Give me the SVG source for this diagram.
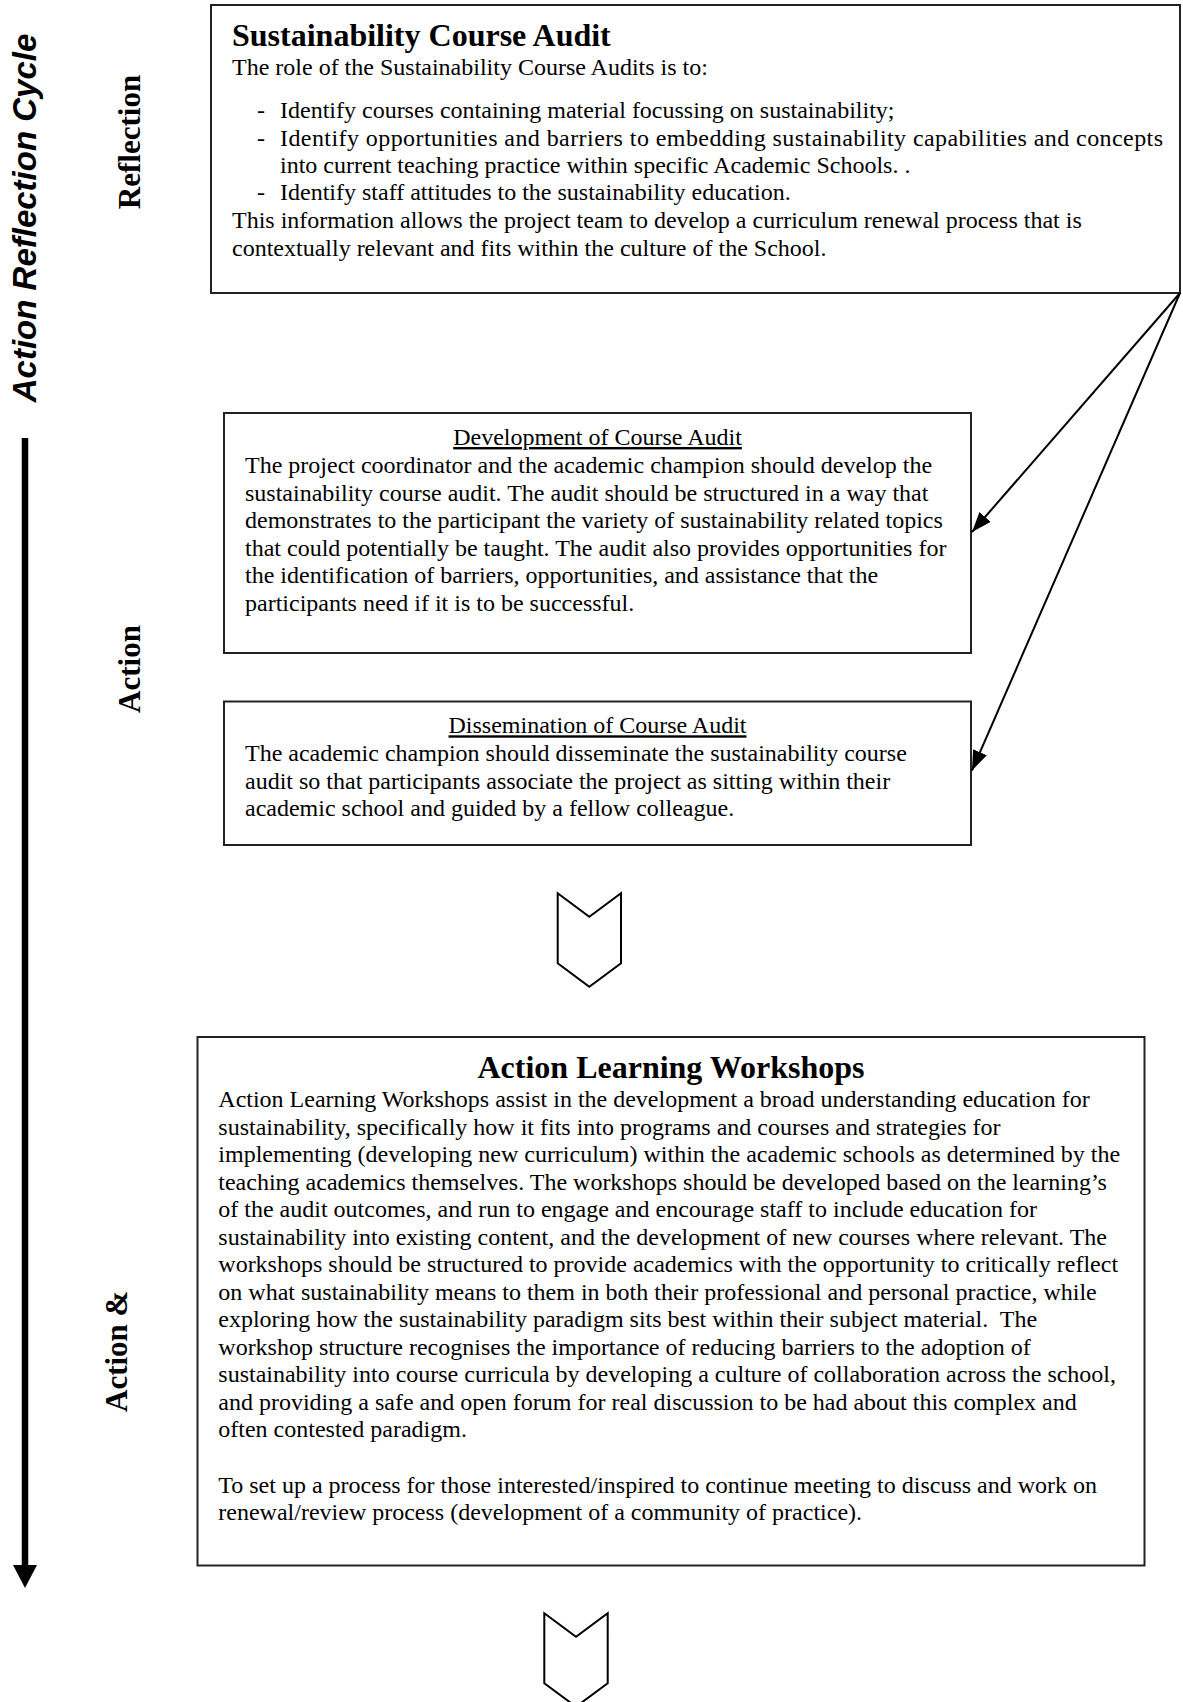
<svg xmlns="http://www.w3.org/2000/svg" width="1183" height="1702" viewBox="0 0 1183 1702">
<defs>
<style>
.box{fill:#fff;stroke:#222;stroke-width:2}
.t{font-family:"Liberation Serif","Times New Roman",serif;font-size:24px;fill:#000}
.h{font-family:"Liberation Serif","Times New Roman",serif;font-size:32px;font-weight:bold;fill:#000}
.u{text-decoration:underline}
.side{font-family:"Liberation Serif","Times New Roman",serif;font-size:31px;font-weight:bold;fill:#000}
.cyc{font-family:"Liberation Sans",Arial,sans-serif;font-size:33px;font-weight:bold;font-style:italic;fill:#000}
.conn{stroke:#000;stroke-width:2;fill:none}
.chev{fill:#fff;stroke:#000;stroke-width:2;stroke-linejoin:miter}
</style>
<marker id="ah2" viewBox="0 0 10 10" refX="10" refY="5" markerWidth="20" markerHeight="15" markerUnits="userSpaceOnUse" orient="auto" preserveAspectRatio="none">
<path d="M0,0 L10,5 L0,10 z" fill="#000"/>
</marker>
</defs>
<rect width="1183" height="1702" fill="#fff"/>

<g id="side-labels">
<text class="cyc" transform="translate(36,218) rotate(-90)" text-anchor="middle">Action Reflection Cycle</text>
<text class="side" transform="translate(140,142) rotate(-90)" text-anchor="middle">Reflection</text>
<text class="side" transform="translate(140,669) rotate(-90)" text-anchor="middle">Action</text>
<text class="side" transform="translate(127,1412) rotate(-90)">Action &amp;</text>
</g>

<g id="cycle-arrow">
<line x1="25" y1="438" x2="25" y2="1566" stroke="#000" stroke-width="6.5"/>
<path d="M13,1565 L37,1565 L25,1588 z" fill="#000"/>
</g>

<g id="audit">
<rect class="box" x="211" y="5" width="969" height="288"/>
<text class="h" x="232" y="46">Sustainability Course Audit</text>
<text class="t" x="232" y="75">The role of the Sustainability Course Audits is to:</text>
<text class="t" x="257" y="118.3">-</text>
<text class="t" x="280" y="118.3">Identify courses containing material focussing on sustainability;</text>
<text class="t" x="257" y="145.7">-</text>
<text class="t" x="280" y="145.7" textLength="883" lengthAdjust="spacing">Identify opportunities and barriers to embedding sustainability capabilities and concepts</text>
<text class="t" x="280" y="173.3">into current teaching practice within specific Academic Schools. .</text>
<text class="t" x="257" y="200">-</text>
<text class="t" x="280" y="200">Identify staff attitudes to the sustainability education.</text>
<text class="t" x="232" y="228.3">This information allows the project team to develop a curriculum renewal process that is</text>
<text class="t" x="232" y="255.7">contextually relevant and fits within the culture of the School.</text>
</g>

<g id="development">
<rect class="box" x="224" y="413" width="747" height="240"/>
<text class="t u" x="597.5" y="445" text-anchor="middle">Development of Course Audit</text>
<text class="t" x="245" y="473.3">The project coordinator and the academic champion should develop the</text>
<text class="t" x="245" y="500.8">sustainability course audit. The audit should be structured in a way that</text>
<text class="t" x="245" y="528.3">demonstrates to the participant the variety of sustainability related topics</text>
<text class="t" x="245" y="555.8">that could potentially be taught. The audit also provides opportunities for</text>
<text class="t" x="245" y="583.3">the identification of barriers, opportunities, and assistance that the</text>
<text class="t" x="245" y="610.8">participants need if it is to be successful.</text>
</g>

<g id="dissemination">
<rect class="box" x="224" y="701.5" width="747" height="143.5"/>
<text class="t u" x="597.5" y="733.3" text-anchor="middle">Dissemination of Course Audit</text>
<text class="t" x="245" y="761.3">The academic champion should disseminate the sustainability course</text>
<text class="t" x="245" y="788.8">audit so that participants associate the project as sitting within their</text>
<text class="t" x="245" y="816.3">academic school and guided by a fellow colleague.</text>
</g>

<g id="chevron1">
<path class="chev" d="M557.7,893.3 L589.3,916.7 L621,893.3 L621,963.3 L589.3,986.7 L557.7,963.3 z"/>
</g>

<g id="workshops">
<rect class="box" x="197.5" y="1037" width="947" height="528.5"/>
<text class="h" x="671" y="1078.3" text-anchor="middle">Action Learning Workshops</text>
<text class="t" x="218.3" y="1107.3">Action Learning Workshops assist in the development a broad understanding education for</text>
<text class="t" x="218.3" y="1134.8">sustainability, specifically how it fits into programs and courses and strategies for</text>
<text class="t" x="218.3" y="1162.3">implementing (developing new curriculum) within the academic schools as determined by the</text>
<text class="t" x="218.3" y="1189.8">teaching academics themselves. The workshops should be developed based on the learning’s</text>
<text class="t" x="218.3" y="1217.3">of the audit outcomes, and run to engage and encourage staff to include education for</text>
<text class="t" x="218.3" y="1244.8">sustainability into existing content, and the development of new courses where relevant. The</text>
<text class="t" x="218.3" y="1272.3">workshops should be structured to provide academics with the opportunity to critically reflect</text>
<text class="t" x="218.3" y="1299.8">on what sustainability means to them in both their professional and personal practice, while</text>
<text class="t" x="218.3" y="1327.3">exploring how the sustainability paradigm sits best within their subject material.&#160; The</text>
<text class="t" x="218.3" y="1354.8">workshop structure recognises the importance of reducing barriers to the adoption of</text>
<text class="t" x="218.3" y="1382.3">sustainability into course curricula by developing a culture of collaboration across the school,</text>
<text class="t" x="218.3" y="1409.8">and providing a safe and open forum for real discussion to be had about this complex and</text>
<text class="t" x="218.3" y="1437.3">often contested paradigm.</text>
<text class="t" x="218.3" y="1493.3">To set up a process for those interested/inspired to continue meeting to discuss and work on</text>
<text class="t" x="218.3" y="1520.3">renewal/review process (development of a community of practice).</text>
</g>

<g id="chevron2">
<path class="chev" d="M544.3,1613.3 L576,1636.7 L607.7,1613.3 L607.7,1683.3 L576,1706.7 L544.3,1683.3 z"/>
</g>

<g id="connectors">
<line class="conn" x1="1180" y1="293" x2="972" y2="532" marker-end="url(#ah2)"/>
<line class="conn" x1="1180" y1="293" x2="972" y2="770.5" marker-end="url(#ah2)"/>
</g>
</svg>
